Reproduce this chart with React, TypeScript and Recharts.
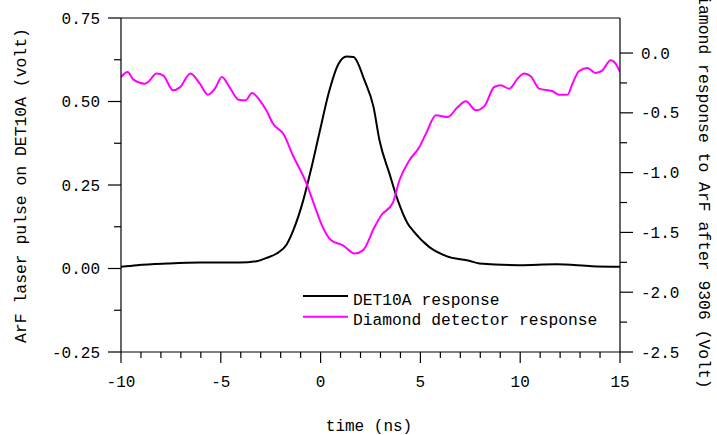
import { ComposedChart, Line, XAxis, YAxis, Legend } from 'recharts';

// DET10A response (left axis, volt)
const detTime = [
  -10, -9.2, -7.7, -6.05, -4.05, -3.2, -2.7, -2.2, -1.7, -1.37, -0.87, -0.45, -0.03, 0.4, 0.9,
  1.3, 1.65, 2.2, 2.65, 2.95, 3.45, 3.87, 4.37, 4.62, 5.45, 6.3, 7.45, 7.95, 9.95, 11.8, 13.6, 15,
];
const detValue = [
  0.005, 0.01, 0.015, 0.018, 0.018, 0.022, 0.032, 0.045, 0.072, 0.114, 0.204, 0.304, 0.414, 0.524,
  0.613, 0.635, 0.633, 0.563, 0.484, 0.384, 0.284, 0.204, 0.134, 0.114, 0.064, 0.037, 0.023, 0.015,
  0.01, 0.0126, 0.007, 0.005,
];

// Diamond detector response (right axis, volt)
const diaTime = [
  -10, -9.67, -9.39, -8.8, -8.64, -8.22, -7.89, -7.39, -7.05, -6.52, -6.05, -5.64, -5.3, -4.94,
  -4.55, -4.1, -3.75, -3.44, -3.05, -2.72, -2.39, -1.85, -1.39, -0.72, -0.22, 0.03, 0.53, 1.12,
  1.7, 2.12, 2.7, 3.04, 3.62, 3.95, 4.45, 4.95, 5.28, 5.78, 6.37, 6.87, 7.28, 7.78, 8.2, 8.7,
  9.03, 9.45, 9.87, 10.2, 10.53, 10.95, 11.62, 11.95, 12.37, 12.62, 12.95, 13.37, 13.78, 14.12,
  14.53, 14.78, 15,
];
const diaValue = [
  -0.201, -0.159, -0.22, -0.256, -0.242, -0.172, -0.186, -0.312, -0.287, -0.172, -0.256, -0.348,
  -0.298, -0.201, -0.289, -0.39, -0.395, -0.334, -0.395, -0.479, -0.59, -0.68, -0.855, -1.085,
  -1.315, -1.426, -1.566, -1.608, -1.677, -1.65, -1.455, -1.357, -1.252, -1.064, -0.897, -0.786,
  -0.674, -0.521, -0.535, -0.452, -0.404, -0.479, -0.446, -0.284, -0.27, -0.298, -0.214, -0.172,
  -0.195, -0.298, -0.32, -0.348, -0.348, -0.256, -0.15, -0.125, -0.167, -0.145, -0.061, -0.089,
  -0.159,
];

const xTicks = Array.from({ length: 26 }, (_, i) => -10 + i);
const leftTicks = Array.from({ length: 9 }, (_, i) => -0.25 + i * 0.125);
const rightTicks = Array.from({ length: 11 }, (_, i) => -2.5 + i * 0.25);

const detData = detTime.map((t, i) => ({ t, v: detValue[i] }));
const diaData = diaTime.map((t, i) => ({ t, v: diaValue[i] }));

const font = "'Liberation Mono', 'Courier New', Courier, monospace";
const isMajor = (v: number, step: number) => Math.abs(v / step - Math.round(v / step)) < 1e-6;

function LeftTick({ x, y, payload }: any) {
  const major = isMajor(payload.value, 0.25);
  return (
    <g>
      <line x1={x} x2={x - (major ? 13 : 7)} y1={y} y2={y} stroke="#000" strokeWidth={1.2} />
      {major && (
        <text x={x - 21} y={y} dy="0.35em" textAnchor="end" fontFamily={font} fontSize={16} fill="#000">
          {payload.value.toFixed(2)}
        </text>
      )}
    </g>
  );
}

function RightTick({ x, y, payload }: any) {
  const major = isMajor(payload.value, 0.5);
  return (
    <g>
      <line x1={x} x2={x + (major ? 13 : 7)} y1={y} y2={y} stroke="#000" strokeWidth={1.2} />
      {major && (
        <text x={x + 21} y={y} dy="0.35em" textAnchor="start" fontFamily={font} fontSize={16} fill="#000">
          {payload.value.toFixed(1)}
        </text>
      )}
    </g>
  );
}

function BottomTick({ x, y, payload }: any) {
  const major = isMajor(payload.value, 5);
  return (
    <g>
      <line x1={x} x2={x} y1={y} y2={y + (major ? 11 : 6)} stroke="#000" strokeWidth={1.2} />
      {major && (
        <text x={x} y={y + 29} dy="0.35em" textAnchor="middle" fontFamily={font} fontSize={16} fill="#000">
          {payload.value}
        </text>
      )}
    </g>
  );
}

function LegendBox({ payload }: any) {
  const items = payload || [];
  return (
    <svg width={330} height={50}>
      {items.map((it: any, i: number) => (
        <g key={i}>
          <line x1={3} x2={48} y1={10 + i * 20.7} y2={10 + i * 20.7} stroke={it.color} strokeWidth={2} />
          <text x={53} y={13 + i * 20.5} dy="0.35em" fontFamily={font} fontSize={16.3} fill="#000">
            {it.value}
          </text>
        </g>
      ))}
    </svg>
  );
}

export default function App() {
  return (
    <div style={{ position: 'absolute', left: 0, top: 0, width: 717, height: 435, background: '#fff' }}>
      <ComposedChart width={717} height={435} margin={{ top: 17, right: 37, bottom: 53, left: 61 }}>
        <XAxis
          type="number"
          dataKey="t"
          domain={[-10, 15]}
          ticks={xTicks}
          interval={0}
          height={30}
          tickSize={0}
          tickMargin={0}
          tick={BottomTick}
          tickLine={false}
          axisLine={{ stroke: '#000', strokeWidth: 1.2 }}
          allowDataOverflow
        />
        <XAxis
          xAxisId="top"
          orientation="top"
          type="number"
          dataKey="t"
          domain={[-10, 15]}
          height={1}
          tick={false}
          tickLine={false}
          axisLine={{ stroke: '#000', strokeWidth: 1.2 }}
          allowDataOverflow
        />
        <YAxis
          yAxisId="left"
          type="number"
          domain={[-0.25, 0.75]}
          ticks={leftTicks}
          interval={0}
          width={60}
          tickSize={0}
          tickMargin={0}
          tick={LeftTick}
          tickLine={false}
          axisLine={{ stroke: '#000', strokeWidth: 1.2 }}
          allowDataOverflow
        />
        <YAxis
          yAxisId="right"
          orientation="right"
          type="number"
          domain={[-2.5, 0.293]}
          ticks={rightTicks}
          interval={0}
          width={60}
          tickSize={0}
          tickMargin={0}
          tick={RightTick}
          tickLine={false}
          axisLine={{ stroke: '#000', strokeWidth: 1.2 }}
          allowDataOverflow
        />
        <Legend
          layout="horizontal"
          verticalAlign="middle"
          align="center"
          content={LegendBox}
          wrapperStyle={{ position: 'absolute', left: 300, top: 286, width: 330, height: 50 }}
        />
        <Line
          yAxisId="left"
          data={detData}
          dataKey="v"
          name="DET10A response"
          type="monotone"
          stroke="#000"
          strokeWidth={2}
          dot={false}
          isAnimationActive={false}
        />
        <Line
          yAxisId="right"
          data={diaData}
          dataKey="v"
          name="Diamond detector response"
          type="monotone"
          stroke="#ff00ff"
          strokeWidth={2}
          dot={false}
          isAnimationActive={false}
        />
      </ComposedChart>
      <svg width={717} height={435} style={{ position: 'absolute', left: 0, top: 0, pointerEvents: 'none' }}>
        <text x={20} y={185.5} dy="0.35em" textAnchor="middle" transform="rotate(-90 20 185.5)" fontFamily={font} fontSize={16.4} fill="#000">
          ArF laser pulse on DET10A (volt)
        </text>
        <text x={705} y={187} dy="0.35em" textAnchor="middle" transform="rotate(90 705 187)" fontFamily={font} fontSize={16.4} fill="#000">
          Diamond response to ArF after 9306 (Volt)
        </text>
        <text x={369} y={425} dy="0.35em" textAnchor="middle" fontFamily={font} fontSize={16} fill="#000">
          time (ns)
        </text>
      </svg>
    </div>
  );
}
